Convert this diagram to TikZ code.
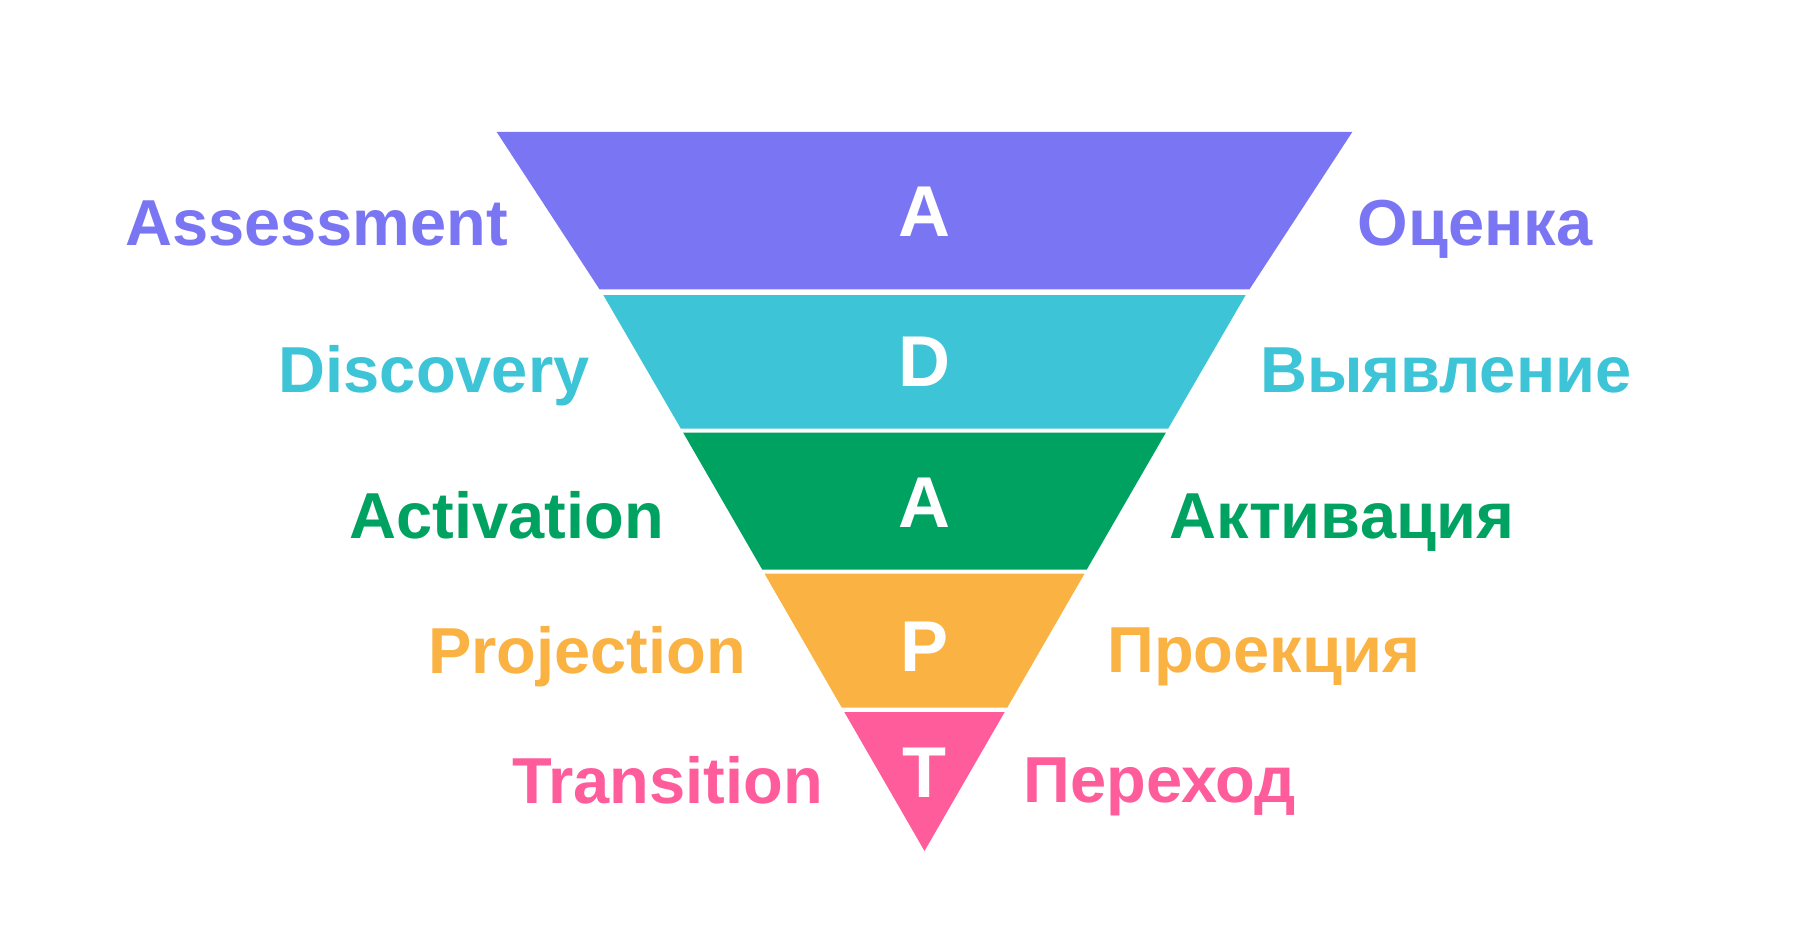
\documentclass[tikz,border=0pt]{standalone}
\usepackage{fontspec}
\setmainfont{Liberation Sans}
\definecolor{cA}{HTML}{7A76F3}
\definecolor{cD}{HTML}{3EC4D7}
\definecolor{cV}{HTML}{00A261}
\definecolor{cP}{HTML}{FAB242}
\definecolor{cT}{HTML}{FF5C9C}
\tikzset{
  lbl/.style={inner sep=0pt, anchor=base, font=\fontsize{65}{78}\selectfont\bfseries},
  ltr/.style={inner sep=0pt, anchor=base, text=white, font=\fontsize{72}{86}\selectfont\bfseries},
}
\begin{document}
\begin{tikzpicture}[x=1pt,y=-1pt]
\useasboundingbox (0,0) rectangle (1800,939);
% bands
\fill[cA] (496.7,132) -- (1352.3,132) -- (1249.5,289.3) -- (599.5,289.3) -- cycle;
\fill[cD] (603.3,295) -- (1245.7,295) -- (1168.1,428.7) -- (680.9,428.7) -- cycle;
\fill[cV] (683.2,432.7) -- (1165.8,432.7) -- (1086.7,569.7) -- (762.3,569.7) -- cycle;
\fill[cP] (764.5,573.7) -- (1084.5,573.7) -- (1007.2,707.7) -- (841.8,707.7) -- cycle;
\fill[cT] (844.3,712) -- (1004.7,712) -- (924.5,851) -- cycle;
% letters
\node[ltr] (l1) at (924.5,236.7) {A};
\node[ltr] (l2) at (924.5,386) {D};
\node[ltr] (l3) at (924.5,527) {A};
\node[ltr] (l4) at (924.5,671.3) {P};
\node[ltr] (l5) at (924.5,797.3) {T};
% left labels
\node[lbl,text=cA] (e1) at (316.7,245.7) {Assessment};
\node[lbl,text=cD] (e2) at (434.2,392) {Discovery};
\node[lbl,text=cV] (e3) at (506.7,538.3) {Activation};
\node[lbl,text=cP] (e4) at (587,673.3) {Projection};
\node[lbl,text=cT] (e5) at (667.5,803.3) {Transition};
% right labels
\node[lbl,text=cA] (r1) at (1475,245.7) {Оценка};
\node[lbl,text=cD] (r2) at (1445.8,392) {Выявление};
\node[lbl,text=cV] (r3) at (1341.8,538) {Активация};
\node[lbl,text=cP] (r4) at (1263.8,672.7) {Проекция};
\node[lbl,text=cT] (r5) at (1159.7,802.7) {Переход};
\end{tikzpicture}
\end{document}
